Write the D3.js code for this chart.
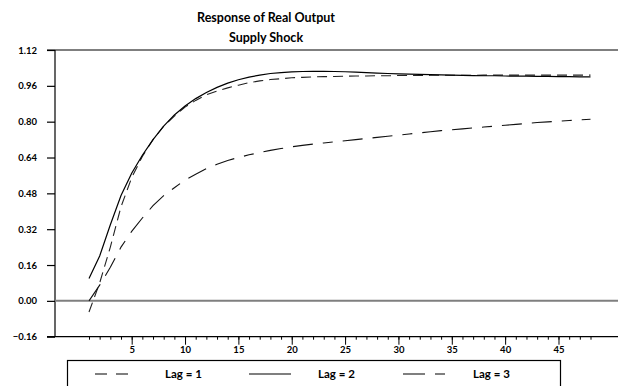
<!DOCTYPE html>
<html>
<head>
<meta charset="utf-8">
<script src="https://cdn.jsdelivr.net/npm/d3@7"></script>
<style>
  body { margin: 0; background: #fff; }
  svg { display: block; font-family: Lato, "DejaVu Sans", sans-serif; }
</style>
</head>
<body>
<div id="chart"></div>
<script>
// horizon (periods after the shock)
const periods = d3.range(1, 49);

// impulse responses, period 1..48
const lag1 = [-0.05, 0.08, 0.24, 0.42, 0.55, 0.645, 0.72, 0.78, 0.825, 0.865,
  0.895, 0.92, 0.937, 0.951, 0.963, 0.974, 0.982, 0.988, 0.992, 0.996,
  0.998, 1.000, 1.001, 1.002, 1.003, 1.004, 1.004, 1.005, 1.005, 1.006,
  1.006, 1.006, 1.007, 1.007, 1.007, 1.007, 1.007, 1.008, 1.008, 1.008,
  1.008, 1.008, 1.008, 1.008, 1.008, 1.008, 1.008, 1.008];

const lag2 = [0.10, 0.20, 0.34, 0.47, 0.57, 0.65, 0.72, 0.78, 0.83, 0.87,
  0.903, 0.93, 0.953, 0.972, 0.987, 0.999, 1.008, 1.015, 1.019, 1.022,
  1.024, 1.025, 1.025, 1.024, 1.023, 1.021, 1.019, 1.017, 1.015, 1.013,
  1.012, 1.011, 1.010, 1.009, 1.008, 1.007, 1.006, 1.005, 1.005, 1.004,
  1.003, 1.003, 1.002, 1.002, 1.001, 1.001, 1.000, 1.000];

const lag3 = [0.00, 0.07, 0.15, 0.24, 0.31, 0.37, 0.425, 0.47, 0.505, 0.54,
  0.565, 0.59, 0.61, 0.627, 0.64, 0.652, 0.662, 0.672, 0.68, 0.688,
  0.694, 0.70, 0.705, 0.71, 0.715, 0.72, 0.725, 0.73, 0.735, 0.74,
  0.745, 0.75, 0.755, 0.76, 0.764, 0.768, 0.772, 0.776, 0.78, 0.784,
  0.788, 0.792, 0.796, 0.799, 0.802, 0.805, 0.808, 0.811];

const yTicks = [-0.16, 0.00, 0.16, 0.32, 0.48, 0.64, 0.80, 0.96, 1.12];
const xLabelTicks = [5, 10, 15, 20, 25, 30, 35, 40, 45];
const seriesNames = ["Lag = 1", "Lag = 2", "Lag = 3"];

const width = 618, height = 386;
const plotLeft = 55, plotTop = 50, plotBottom = 336.7;

const svg = d3.select("#chart").append("svg")
  .attr("width", width)
  .attr("height", height)
  .attr("viewBox", `0 0 ${width} ${height}`);

const x = d3.scaleLinear().domain([1, 48]).range([89, 590.5]);
const y = d3.scaleLinear().domain([-0.16, 1.12]).range([plotBottom, plotTop]);

// titles
svg.append("text")
  .attr("x", 266).attr("y", 22)
  .attr("text-anchor", "middle")
  .style("font-size", "12.5px").style("font-weight", "bold")
  .text("Response of Real Output");
svg.append("text")
  .attr("x", 266).attr("y", 42)
  .attr("text-anchor", "middle")
  .style("font-size", "12.5px").style("font-weight", "bold")
  .text("Supply Shock");

// frame lines (top, bottom, left)
svg.append("line")
  .attr("x1", plotLeft - 8).attr("x2", width)
  .attr("y1", y(1.12)).attr("y2", y(1.12))
  .attr("stroke", "#000").attr("stroke-width", 1.2);
svg.append("line")
  .attr("x1", plotLeft - 8).attr("x2", width)
  .attr("y1", y(-0.16)).attr("y2", y(-0.16))
  .attr("stroke", "#000").attr("stroke-width", 1.2);
svg.append("line")
  .attr("x1", plotLeft).attr("x2", plotLeft)
  .attr("y1", y(1.12)).attr("y2", y(-0.16))
  .attr("stroke", "#000").attr("stroke-width", 1.2);

// zero line
svg.append("line")
  .attr("x1", plotLeft).attr("x2", width)
  .attr("y1", y(0)).attr("y2", y(0))
  .attr("stroke", "#7f7f7f").attr("stroke-width", 2);

// y axis
const yAxis = svg.append("g")
  .attr("transform", `translate(${plotLeft},0)`)
  .call(d3.axisLeft(y).tickValues(yTicks).tickSize(8).tickPadding(10)
    .tickFormat(d3.format(".2f")));
yAxis.select(".domain").remove();
yAxis.selectAll("line").attr("stroke-width", 1.2);
yAxis.selectAll("text")
  .style("font-size", "9.5px").style("font-weight", "bold")
  .style("font-family", "Lato, sans-serif").attr("fill", "#000");

// x axis: minor ticks every period, longer ones with labels every 5
const xMinor = svg.append("g")
  .attr("transform", `translate(0,${plotBottom})`)
  .call(d3.axisBottom(x).tickValues(periods).tickSize(3).tickFormat(""));
xMinor.select(".domain").remove();

const xMajor = svg.append("g")
  .attr("transform", `translate(0,${plotBottom})`)
  .call(d3.axisBottom(x).tickValues(xLabelTicks).tickSize(8).tickPadding(2));
xMajor.select(".domain").remove();
xMajor.selectAll("text")
  .style("font-size", "9.5px").style("font-weight", "bold")
  .style("font-family", "Lato, sans-serif").attr("fill", "#000");

// response lines
const line = d3.line()
  .x((d, i) => x(periods[i]))
  .y(d => y(d));

const styles = [
  { data: lag1, dash: "10,6", legendDash: "12,9", width: 1.1, color: "#222" },
  { data: lag2, dash: null, legendDash: null, width: 1.2, color: "#000" },
  { data: lag3, dash: "20,10,20,10,10,10", legendDash: "22,10,10,10", width: 1.1, color: "#111" }
];

styles.forEach(s => {
  svg.append("path")
    .datum(s.data)
    .attr("fill", "none")
    .attr("stroke", s.color)
    .attr("stroke-width", s.width)
    .attr("stroke-dasharray", s.dash)
    .attr("d", line);
});

// legend
const legend = svg.append("g");
legend.append("rect")
  .attr("x", 67.5).attr("y", 360.5)
  .attr("width", 493).attr("height", 34)
  .attr("fill", "none").attr("stroke", "#000").attr("stroke-width", 1.2);

const legendX = [95, 249, 403];
const legendTextX = [165, 318, 473];
styles.forEach((s, i) => {
  legend.append("line")
    .attr("x1", legendX[i]).attr("x2", legendX[i] + 42)
    .attr("y1", 374).attr("y2", 374)
    .attr("stroke", "#000").attr("stroke-width", 1.2)
    .attr("stroke-dasharray", s.legendDash);
  legend.append("text")
    .attr("x", legendTextX[i]).attr("y", 378)
    .style("font-size", "11.5px").style("font-weight", "bold")
    .text(seriesNames[i]);
});
</script>
</body>
</html>
